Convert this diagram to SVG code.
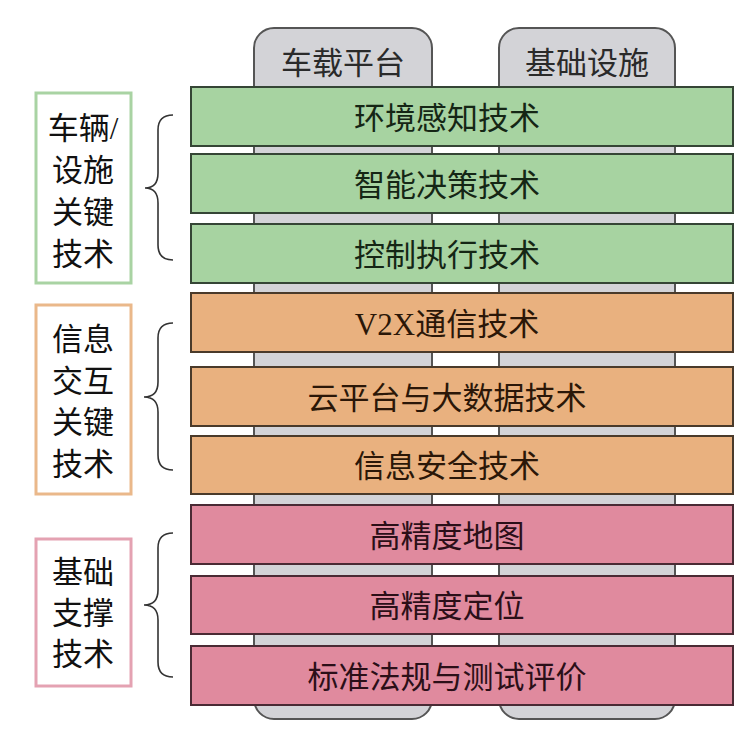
<svg xmlns="http://www.w3.org/2000/svg" width="749" height="738" viewBox="0 0 749 738">
<style>
  .pillar { fill: #d3d3d7; stroke: #555555; stroke-width: 2; }
  .bar { stroke-width: 2; }
  .g { fill: #a7d3a1; stroke: #354535; }
  .o { fill: #e9b17f; stroke: #4a3a2a; }
  .p { fill: #e08a9e; stroke: #4a2a34; }
  .t { font-family: "Liberation Serif", "Noto Sans CJK SC", serif; font-size: 31px; text-anchor: middle; }
  .tg { fill: #152615; }
  .to { fill: #2b1708; }
  .tp { fill: #2b0f18; }
  .th { fill: #2a2a2a; }
  .tl { fill: #111111; font-size: 31px; }
  .lbox { fill: #ffffff; stroke-width: 3; }
  .brace { fill: none; stroke: #333333; stroke-width: 1.6; }
</style>
<rect width="749" height="738" fill="#ffffff"/>

<g id="pillar-vehicle">
  <rect class="pillar" x="254" y="28" width="178" height="691" rx="20"/>
  <text class="t th" x="343" y="73.5">车载平台</text>
</g>
<g id="pillar-infra">
  <rect class="pillar" x="499" y="28" width="176" height="691" rx="20"/>
  <text class="t th" x="587" y="73.5">基础设施</text>
</g>

<g id="bar-1"><rect class="bar g" x="191" y="87" width="542" height="59"/><text class="t tg" x="447" y="128.5">环境感知技术</text></g>
<g id="bar-2"><rect class="bar g" x="191" y="154" width="542" height="59"/><text class="t tg" x="447" y="195.5">智能决策技术</text></g>
<g id="bar-3"><rect class="bar g" x="191" y="224" width="542" height="59"/><text class="t tg" x="447" y="265.5">控制执行技术</text></g>
<g id="bar-4"><rect class="bar o" x="191" y="293" width="542" height="59"/><text class="t to" x="447" y="334.5">V2X通信技术</text></g>
<g id="bar-5"><rect class="bar o" x="191" y="367" width="542" height="59"/><text class="t to" x="447" y="408.5">云平台与大数据技术</text></g>
<g id="bar-6"><rect class="bar o" x="191" y="436" width="542" height="58"/><text class="t to" x="447" y="477">信息安全技术</text></g>
<g id="bar-7"><rect class="bar p" x="191" y="505" width="542" height="59"/><text class="t tp" x="447" y="546.5">高精度地图</text></g>
<g id="bar-8"><rect class="bar p" x="191" y="576" width="542" height="58"/><text class="t tp" x="447" y="617">高精度定位</text></g>
<g id="bar-9"><rect class="bar p" x="191" y="646" width="542" height="59"/><text class="t tp" x="447" y="687.5">标准法规与测试评价</text></g>

<g id="label-vehicle">
  <rect class="lbox" x="36" y="93" width="95" height="190" stroke="#a9d3a3"/>
  <text class="t tl" x="83" y="139">车辆/</text>
  <text class="t tl" x="83" y="181">设施</text>
  <text class="t tl" x="83" y="223">关键</text>
  <text class="t tl" x="83" y="265">技术</text>
</g>
<g id="label-info">
  <rect class="lbox" x="36" y="305" width="95" height="189" stroke="#eab88a"/>
  <text class="t tl" x="83" y="350">信息</text>
  <text class="t tl" x="83" y="392">交互</text>
  <text class="t tl" x="83" y="433">关键</text>
  <text class="t tl" x="83" y="475">技术</text>
</g>
<g id="label-base">
  <rect class="lbox" x="36" y="539" width="95" height="147" stroke="#e4a2b2"/>
  <text class="t tl" x="83" y="583">基础</text>
  <text class="t tl" x="83" y="624">支撑</text>
  <text class="t tl" x="83" y="665">技术</text>
</g>

<g id="connectors">
  <path class="brace" d="M173,115 Q158,115 158,130 L158,173 Q158,188 145,188 Q158,188 158,203 L158,245 Q158,260 173,260"/>
  <path class="brace" d="M173,323 Q158,323 158,338 L158,382 Q158,397 144,397 Q158,397 158,412 L158,455 Q158,470 173,470"/>
  <path class="brace" d="M173,533 Q158,533 158,548 L158,590 Q158,605 144,605 Q158,605 158,620 L158,662 Q158,677 173,677"/>
</g>
</svg>
